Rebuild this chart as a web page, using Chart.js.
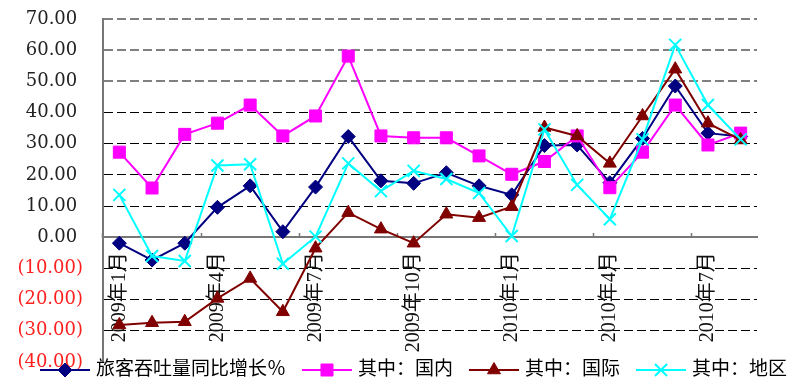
<!DOCTYPE html>
<html>
<head>
<meta charset="utf-8">
<script src="https://cdn.jsdelivr.net/npm/chart.js@4.4.1/dist/chart.umd.min.js"></script>
<style>
    body { margin: 0; background: #fff; }
    #wrap { width: 805px; height: 380px; position: relative; }
</style>
</head>
<body>
<div id="wrap"><canvas id="growth_chart"></canvas></div>
<script>
/** Data **/
const months = ['2009年1月', '2009年2月', '2009年3月', '2009年4月', '2009年5月', '2009年6月',
    '2009年7月', '2009年8月', '2009年9月', '2009年10月', '2009年11月', '2009年12月',
    '2010年1月', '2010年2月', '2010年3月', '2010年4月', '2010年5月', '2010年6月',
    '2010年7月', '2010年8月']
const total_growth = [-1.9, -7.3, -1.9, 9.6, 16.5, 1.8, 16.1, 32.3, 18.1, 17.3,
    20.7, 16.5, 13.6, 29.4, 29.6, 17.5, 31.7, 48.5, 33.4, 32.3]
const domestic = [27.3, 15.8, 33.0, 36.6, 42.4, 32.5, 38.9, 58.1, 32.5, 31.9,
    31.9, 26.1, 20.2, 24.3, 32.5, 15.9, 27.3, 42.4, 29.6, 33.4]
const international = [-28.1, -27.4, -27.1, -19.6, -13.2, -23.9, -3.5, 7.9, 2.6, -1.9,
    7.4, 6.3, 9.8, 35.2, 32.5, 23.7, 38.9, 53.9, 36.6, 31.2]
const regional = [13.6, -6.0, -7.6, 23.0, 23.4, -8.5, 0.2, 23.7, 14.8, 21.3,
    18.7, 14.2, 0.4, 34.6, 16.8, 5.8, 31.4, 61.7, 42.4, 31.4]
const series_names = ['旅客吞吐量同比增长％', '其中：国内', '其中：国际', '其中：地区']

const FONT = '"DejaVu Serif", "Noto Sans CJK SC", serif'
const LABEL_FONT = '"Liberation Serif", "Noto Sans CJK SC", serif'

// legend drawn as line + marker + text along the bottom edge
const lineLegend = {
    id: 'lineLegend',
    afterDraw(chart) {
        const ctx = chart.ctx
        const y = 370
        let x = 40
        ctx.save()
        ctx.font = '19px ' + FONT
        ctx.textBaseline = 'middle'
        chart.data.datasets.forEach(function (ds) {
            ctx.strokeStyle = ds.borderColor
            ctx.lineWidth = 2
            ctx.beginPath()
            ctx.moveTo(x, y)
            ctx.lineTo(x + 50, y)
            ctx.stroke()
            ctx.fillStyle = ds.pointBackgroundColor
            ctx.strokeStyle = ds.pointBorderColor
            ctx.lineWidth = ds.pointBorderWidth
            Chart.helpers.drawPoint(ctx, {
                pointStyle: ds.pointStyle,
                radius: ds.pointRadius,
                rotation: 0,
                borderWidth: ds.pointBorderWidth
            }, x + 25, y)
            ctx.fillStyle = '#000'
            ctx.fillText(ds.label, x + 56, y)
            x += 56 + ctx.measureText(ds.label).width + 16
        })
        ctx.restore()
    }
}

function make_series(label, data, color, style, radius, order) {
    return {
        label: label,
        data: data,
        borderColor: color,
        backgroundColor: color,
        borderWidth: 2,
        pointStyle: style,
        pointRadius: radius,
        pointHoverRadius: radius,
        pointBackgroundColor: color,
        pointBorderColor: color,
        pointBorderWidth: style === 'crossRot' ? 2 : 1,
        tension: 0,
        fill: false,
        order: order,
    }
}

const growth_chart = new Chart(
    document.getElementById('growth_chart').getContext('2d'),
    {
        type: 'line',
        data: {
            labels: months,
            datasets: [
                make_series(series_names[0], total_growth, '#000080', 'rectRot', 7, 4),
                make_series(series_names[1], domestic, '#ff00ff', 'rect', 8.5, 3),
                make_series(series_names[2], international, '#800000', 'triangle', 7.5, 2),
                make_series(series_names[3], regional, '#00ffff', 'crossRot', 8.5, 1),
            ]
        },
        options: {
            responsive: true,
            maintainAspectRatio: false,
            animation: false,
            layout: {
                padding: { left: 0, right: 48, top: 19, bottom: 18 }
            },
            plugins: {
                legend: { display: false },
                tooltip: { enabled: false },
            },
            scales: {
                x: {
                    position: { y: 0 },
                    offset: true,
                    afterFit: function (scale) {
                        scale.paddingLeft = 0
                        scale.paddingRight = 0
                    },
                    grid: {
                        offset: true,
                        drawOnChartArea: false,
                        drawTicks: true,
                        tickLength: -5,
                        tickWidth: 1.5,
                        tickColor: function (c) {
                            return c.index % 3 === 0 ? '#777' : 'rgba(0,0,0,0)'
                        },
                    },
                    border: { display: true, color: '#777', width: 2 },
                    ticks: {
                        autoSkip: false,
                        minRotation: 90,
                        maxRotation: 90,
                        padding: 20,
                        color: '#111',
                        font: { family: LABEL_FONT, size: 20 },
                        callback: function (value, index) {
                            return index % 3 === 0 ? this.getLabelForValue(value) : ''
                        }
                    }
                },
                y: {
                    min: -40,
                    max: 70,
                    afterFit: function (scale) {
                        scale.width = 103
                        scale.paddingTop = 0
                        scale.paddingBottom = 0
                    },
                    grid: {
                        drawTicks: false,
                        color: function (c) {
                            const v = c.tick.value
                            if (v === 0 || v === -40) return 'rgba(0,0,0,0)'
                            return v >= 50 ? '#808080' : '#000'
                        },
                        lineWidth: function (c) {
                            return c.tick.value >= 50 ? 2 : 1
                        },
                    },
                    border: { display: true, color: '#777', width: 2, dash: [9, 4] },
                    ticks: {
                        stepSize: 10,
                        padding: 20,
                        font: { family: FONT, size: 18 },
                        color: function (c) {
                            return c.tick.value < 0 ? '#ff2020' : '#222'
                        },
                        callback: function (value) {
                            if (value < 0) return '(' + Math.abs(value).toFixed(2) + ')'
                            return value.toFixed(2) + ' '
                        }
                    }
                }
            }
        },
        plugins: [lineLegend]
    }
);
</script>
</body>
</html>
